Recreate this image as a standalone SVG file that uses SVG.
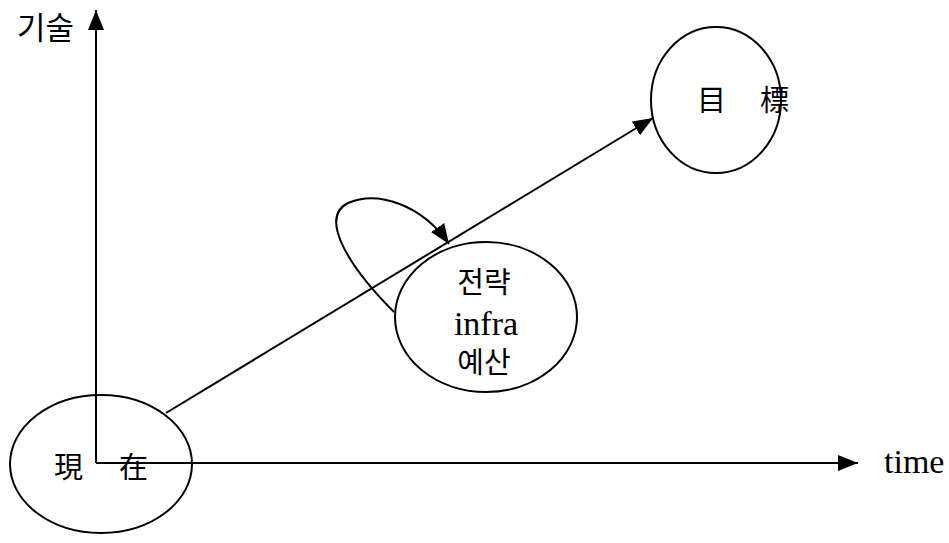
<svg xmlns="http://www.w3.org/2000/svg" width="949" height="543" viewBox="0 0 949 543">
<style>
.ln{fill:none;stroke:#000;stroke-width:2}
.el{fill:none;stroke:#000;stroke-width:2}
.kr{font-family:"Noto Sans CJK KR","Noto Sans CJK SC",sans-serif;font-size:29px;fill:#000}
.lat{font-family:"Liberation Serif",serif;font-size:34px;fill:#000}
</style>
<defs>
<marker id="ahL" markerWidth="20" markerHeight="16" refX="20" refY="8" orient="auto" markerUnits="userSpaceOnUse" viewBox="0 0 20 16">
<path d="M0,0 L20,8 L0,16 Z" fill="#000"/>
</marker>
</defs>
<g id="connectors">
<line class="ln" x1="96" y1="463" x2="96" y2="10" marker-end="url(#ahL)"/>
<line class="ln" x1="96" y1="463" x2="858" y2="463" marker-end="url(#ahL)"/>
<line class="ln" x1="166" y1="413" x2="653" y2="118" marker-end="url(#ahL)"/>
<path class="ln" d="M394,312 C350,268 318,218 348,203 C378,190 422,205 449,244" marker-end="url(#ahL)"/>
</g>
<g id="axis-y-label"><text class="kr" x="17" y="39" style="font-size:31px">기술</text></g>
<g id="axis-x-label"><text class="lat" x="884" y="473">time</text></g>
<g id="now">
<ellipse class="el" cx="101" cy="464" rx="91" ry="69"/>
<text class="kr" x="54" y="478">現</text>
<text class="kr" x="119" y="478">在</text>
</g>
<g id="goal">
<ellipse class="el" cx="716" cy="100" rx="65" ry="73"/>
<text class="kr" x="697" y="111">目</text>
<text class="kr" x="760" y="111">標</text>
</g>
<g id="strategy">
<ellipse class="el" cx="486" cy="317" rx="91" ry="75"/>
<text class="kr" x="484" y="293" text-anchor="middle">전략</text>
<text class="lat" x="486" y="335" text-anchor="middle">infra</text>
<text class="kr" x="484" y="373" text-anchor="middle">예산</text>
</g>
</svg>
